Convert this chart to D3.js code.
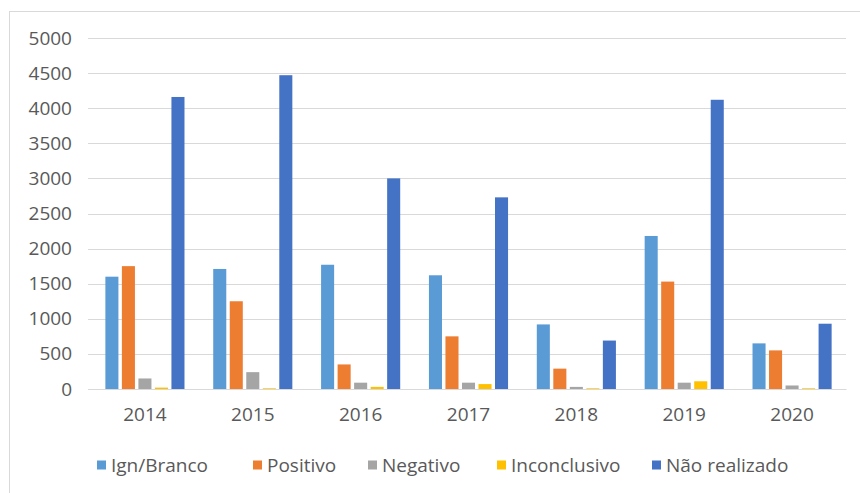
<!DOCTYPE html>
<html>
<head>
<meta charset="utf-8">
<script src="https://cdn.jsdelivr.net/npm/d3@7"></script>
<style>
  body { margin: 0; background: #fff; }
  text { font-family: "Open Sans", sans-serif; fill: #595959; }
</style>
</head>
<body>
<div id="chart"></div>
<script>
// data
var years = ["2014", "2015", "2016", "2017", "2018", "2019", "2020"];
var seriesNames = ["Ign/Branco", "Positivo", "Negativo", "Inconclusivo", "Não realizado"];
var ignBranco    = [1600, 1710, 1770, 1620, 920, 2180, 650];
var positivo     = [1750, 1250, 350, 750, 290, 1530, 550];
var negativo     = [150, 240, 90, 90, 30, 90, 50];
var inconclusivo = [20, 10, 30, 70, 10, 110, 10];
var naoRealizado = [4160, 4470, 3000, 2730, 690, 4120, 930];
var yTicks = [0, 500, 1000, 1500, 2000, 2500, 3000, 3500, 4000, 4500, 5000];
var colors = ["#5B9BD5", "#ED7D31", "#A5A5A5", "#FFC000", "#4472C4"];

var allSeries = [ignBranco, positivo, negativo, inconclusivo, naoRealizado];

var margin = { top: 38, left: 91, right: 14, bottom: 104 },
    W = 860, H = 493,
    width = W - margin.left - margin.right,
    height = H - margin.top - margin.bottom;

var svg = d3.select("#chart").append("svg")
    .attr("width", W)
    .attr("height", H);

// chart area border
svg.append("rect")
    .attr("x", 9.5).attr("y", 11.5)
    .attr("width", 860).attr("height", 500)
    .attr("fill", "none")
    .attr("stroke", "#d9d9d9");

var g = svg.append("g")
    .attr("transform", "translate(" + margin.left + "," + margin.top + ")");

var x = d3.scaleBand().domain(years).range([0, width]).paddingInner(0).paddingOuter(0);
var x1 = d3.scaleBand().domain(seriesNames).range([0, x.bandwidth()]).paddingInner(0.21).paddingOuter(0.87);
var y = d3.scaleLinear().domain([0, 5000]).range([height, 0]);

// gridlines
g.selectAll(".grid")
    .data(yTicks)
    .enter().append("line")
    .attr("x1", -3).attr("x2", width)
    .attr("y1", function (d) { return Math.round(y(d)) + 0.5; })
    .attr("y2", function (d) { return Math.round(y(d)) + 0.5; })
    .attr("stroke", "#d9d9d9");

// y axis labels
var yAxis = d3.axisLeft(y).tickValues(yTicks).tickFormat(d3.format("d")).tickSize(0).tickPadding(19);
g.append("g").call(yAxis)
    .call(function (s) { s.select(".domain").remove(); })
    .selectAll("text")
    .style("font-size", "19px")
    .style("font-family", "'Open Sans', sans-serif")
    .attr("fill", "#595959");

// bars
var groups = g.selectAll(".year")
    .data(years)
    .enter().append("g")
    .attr("transform", function (d) { return "translate(" + x(d) + ",0)"; });

groups.selectAll("rect")
    .data(function (d, i) {
        return seriesNames.map(function (s, k) { return { name: s, value: allSeries[k][i], k: k }; });
    })
    .enter().append("rect")
    .attr("x", function (d) { return x1(d.name); })
    .attr("width", x1.bandwidth())
    .attr("y", function (d) { return y(d.value); })
    .attr("height", function (d) { return height - y(d.value); })
    .attr("fill", function (d) { return colors[d.k]; });

// x axis
var xAxis = d3.axisBottom(x).tickSize(0).tickPadding(19);
g.append("g")
    .attr("transform", "translate(0," + height + ")")
    .call(xAxis)
    .call(function (s) { s.select(".domain").attr("stroke", "#d9d9d9"); })
    .selectAll("text")
    .style("font-size", "19px")
    .style("font-family", "'Open Sans', sans-serif")
    .attr("fill", "#595959");

// legend
var legendX = [97, 253, 368, 497, 652];
var legend = svg.selectAll(".legend")
    .data(seriesNames)
    .enter().append("g")
    .attr("transform", function (d, i) { return "translate(" + legendX[i] + ",465)"; });

legend.append("rect")
    .attr("x", 0).attr("y", -4.5)
    .attr("width", 9).attr("height", 9)
    .attr("fill", function (d, i) { return colors[i]; });

legend.append("text")
    .attr("x", 14).attr("y", 0)
    .attr("dy", "0.35em")
    .style("font-size", "19px")
    .text(function (d) { return d; });
</script>
</body>
</html>
